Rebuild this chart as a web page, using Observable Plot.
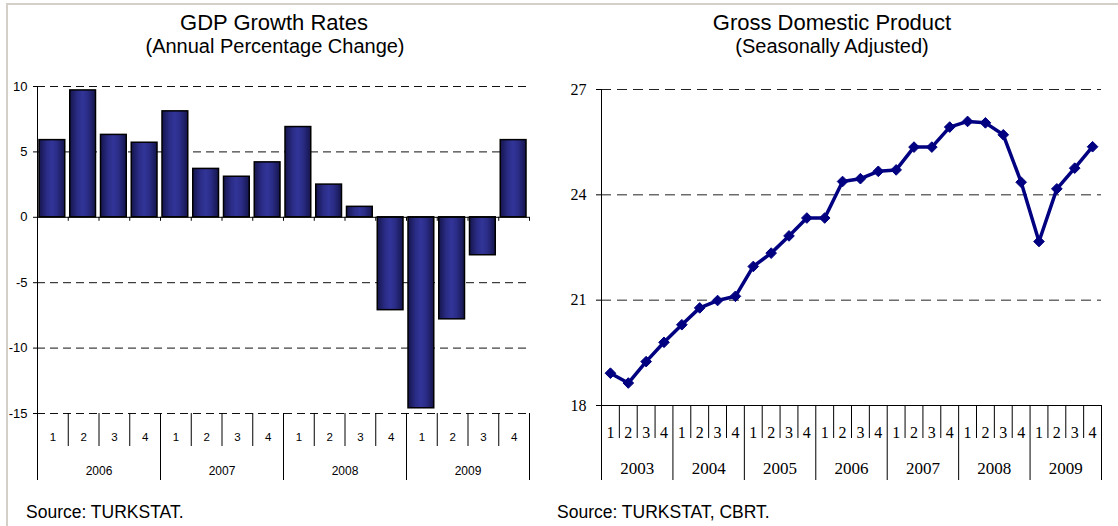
<!DOCTYPE html>
<html>
<head>
<meta charset="utf-8">
<script src="https://cdn.jsdelivr.net/npm/d3@7"></script>
<script src="https://cdn.jsdelivr.net/npm/@observablehq/plot@0.6"></script>
<style>
  html, body { margin: 0; padding: 0; background: #fff; }
  #wrap { position: relative; width: 1118px; height: 526px; overflow: hidden; background: #fff; }
  #frame { position: absolute; left: 6px; top: 3px; width: 1112px; height: 523px;
           border-top: 2px solid #d4d0c8; border-left: 2px solid #d4d0c8; box-sizing: border-box; }
  .panel { position: absolute; top: 0; }
  .title, .sub, .src { position: absolute; font-family: Arial, "Liberation Sans", sans-serif; color: #000; white-space: nowrap; }
  .title { font-size: 22px; line-height: 20px; height: 20px; text-align: center; }
  .sub { font-size: 20px; line-height: 18px; height: 18px; text-align: center; }
  .src { font-size: 17.5px; line-height: 17px; }
</style>
</head>
<body>
<div id="wrap">
  <div id="frame"></div>
  <div class="panel" id="left" style="left:0px"></div>
  <div class="panel" id="right" style="left:559px"></div>
  <div class="title" style="left:24px; width:500px; top:13px">GDP Growth Rates</div>
  <div class="sub" style="left:25px; width:500px; top:37px">(Annual Percentage Change)</div>
  <div class="title" style="left:582px; width:500px; top:13px">Gross Domestic Product</div>
  <div class="sub" style="left:582px; width:500px; top:37px">(Seasonally Adjusted)</div>
  <div class="src" style="left:26px; top:504px">Source: TURKSTAT.</div>
  <div class="src" style="left:557px; top:504px">Source: TURKSTAT, CBRT.</div>
</div>
<script>
// ---- Data: GDP growth (annual % change), quarterly 2006-2009
const growthYears = ["2006", "2007", "2008", "2009"];
const quarterNames = ["1", "2", "3", "4"];
const growthValues = [5.9, 9.7, 6.3, 5.7, 8.1, 3.7, 3.1, 4.2, 6.9, 2.5, 0.8, -7.1, -14.6, -7.8, -2.9, 5.9];
const growthTicks = [-15, -10, -5, 0, 5, 10];

// ---- Data: GDP, seasonally adjusted, quarterly 2003-2009
const gdpYears = ["2003", "2004", "2005", "2006", "2007", "2008", "2009"];
const gdpValues = [18.92, 18.64, 19.25, 19.80, 20.30, 20.78, 20.99, 21.11, 21.96, 22.34, 22.83, 23.34,
                   23.34, 24.38, 24.46, 24.67, 24.71, 25.36, 25.36, 25.93, 26.09, 26.05, 25.71, 24.36,
                   22.67, 24.17, 24.76, 25.37];
const gdpTicks = [18, 21, 24, 27];

// Build tables
function quarterTable(years, values) {
  const rows = [];
  years.forEach((y, yi) => quarterNames.forEach((q, qi) => {
    const i = yi * 4 + qi;
    rows.push({i, year: y, q, v: values[i]});
  }));
  return rows;
}
const growth = quarterTable(growthYears, growthValues);
const gdp = quarterTable(gdpYears, gdpValues);
const yearRows = ys => ys.map((y, k) => ({k, year: y}));
const bounds = n => d3.range(n * 4 + 1);

const sans = "Arial, 'Liberation Sans', sans-serif";
const serif = "'Times New Roman', 'Liberation Serif', serif";

// ---- Left chart
const gMin = d3.min(growthTicks), gMax = d3.max(growthTicks);
const nG = growthYears.length * 4;
const left = Plot.plot({
  width: 559, height: 526,
  marginTop: 86, marginBottom: 113, marginLeft: 37, marginRight: 30,
  x: {domain: [0, nG], axis: null},
  y: {domain: [gMin, gMax], axis: null},
  style: {fontFamily: sans, background: "transparent", color: "#000", overflow: "visible"},
  marks: [
    Plot.ruleY(growthTicks.filter(t => t !== 0), {stroke: "#111", strokeDasharray: "8,5", strokeWidth: 1}),
    Plot.rect(growth, {x1: "i", x2: d => d.i + 1, y1: 0, y2: "v", insetLeft: 2, insetRight: 3,
      fill: "url(#barGrad)", stroke: "#000", strokeWidth: 1.5}),
    Plot.ruleY([0], {stroke: "#000", strokeWidth: 1}),
    Plot.ruleX(bounds(growthYears.length), {x: d => d, y1: 0, y2: 0, insetBottom: -4, stroke: "#000"}),
    Plot.ruleX([0], {y1: gMin, y2: gMax, stroke: "#000"}),
    Plot.axisY({ticks: growthTicks, tickSize: 4, tickPadding: 6, tickFormat: d => String(d), fontSize: 13, fontFamily: sans, label: null}),
    // category axis
    Plot.ruleX(bounds(growthYears.length).filter(b => b % 4 !== 0), {x: d => d, y1: gMin, y2: gMin, insetBottom: -33, stroke: "#000"}),
    Plot.ruleX(bounds(growthYears.length).filter(b => b % 4 === 0), {x: d => d, y1: gMin, y2: gMin, insetBottom: -67, stroke: "#000"}),
    Plot.text(growth, {x: d => d.i + 0.5, y: gMin, text: "q", dy: 23.5, fontSize: 11.5, fontFamily: sans}),
    Plot.text(yearRows(growthYears), {x: d => d.k * 4 + 2, y: gMin, text: "year", dy: 58, fontSize: 12, fontFamily: sans})
  ]
});
// bar gradient
const defs = d3.select(left).insert("defs", ":first-child");
const grad = defs.append("linearGradient").attr("id", "barGrad").attr("x1", 0).attr("x2", 1).attr("y1", 0).attr("y2", 0);
[[0, "#15154c"], [0.3, "#2a2c86"], [0.5, "#323598"], [0.7, "#2a2c86"], [1, "#15154c"]]
  .forEach(([o, c]) => grad.append("stop").attr("offset", o).attr("stop-color", c));
document.getElementById("left").append(left);

// ---- Right chart
const rMin = d3.min(gdpTicks), rMax = d3.max(gdpTicks);
const nR = gdpYears.length * 4;
const right = Plot.plot({
  width: 559, height: 526,
  marginTop: 89, marginBottom: 121, marginLeft: 42, marginRight: 17,
  x: {domain: [0, nR], axis: null},
  y: {domain: [rMin, rMax], axis: null},
  style: {fontFamily: serif, background: "transparent", color: "#000", overflow: "visible"},
  marks: [
    Plot.ruleY(gdpTicks.filter(t => t !== rMin), {stroke: "#222", strokeDasharray: "10,6", strokeWidth: 1}),
    Plot.ruleY([rMin], {stroke: "#000"}),
    Plot.ruleX([0], {y1: rMin, y2: rMax, stroke: "#000"}),
    Plot.axisY({ticks: gdpTicks, tickSize: 5, tickPadding: 10, tickFormat: d => String(d), fontSize: 16, fontFamily: serif, label: null}),
    Plot.line(gdp, {x: d => d.i + 0.5, y: "v", stroke: "#000080", strokeWidth: 3.5}),
    Plot.dot(gdp, {x: d => d.i + 0.5, y: "v", symbol: "diamond2", r: 4.8, fill: "#000080", stroke: "#000080", strokeWidth: 1}),
    // category axis
    Plot.ruleX(bounds(gdpYears.length).filter(b => b % 4 !== 0), {x: d => d, y1: rMin, y2: rMin, insetBottom: -33, stroke: "#000"}),
    Plot.ruleX(bounds(gdpYears.length).filter(b => b % 4 === 0), {x: d => d, y1: rMin, y2: rMin, insetBottom: -75, stroke: "#000"}),
    Plot.text(gdp, {x: d => d.i + 0.5, y: rMin, text: "q", dy: 27, fontSize: 16, fontFamily: serif}),
    Plot.text(yearRows(gdpYears), {x: d => d.k * 4 + 2, y: rMin, text: "year", dy: 63, fontSize: 17, fontFamily: serif})
  ]
});
document.getElementById("right").append(right);
</script>
</body>
</html>
